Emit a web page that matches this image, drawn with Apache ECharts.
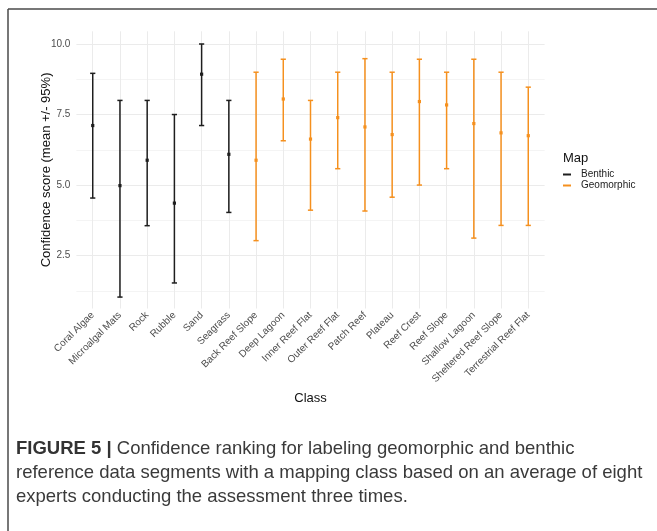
<!DOCTYPE html>
<html>
<head>
<meta charset="utf-8">
<script src="https://cdn.jsdelivr.net/npm/echarts@6/dist/echarts.min.js"></script>
<style>
html,body{margin:0;padding:0;background:#fff;}
#chart{width:657px;height:531px;}
</style>
</head>
<body>
<div id="chart"></div>
<script>
// ---- data ----
var categories = ['Coral Algae','Microalgal Mats','Rock','Rubble','Sand','Seagrass',
  'Back Reef Slope','Deep Lagoon','Inner Reef Flat','Outer Reef Flat','Patch Reef','Plateau',
  'Reef Crest','Reef Slope','Shallow Lagoon','Sheltered Reef Slope','Terrestrial Reef Flat'];
var mapType = ['Benthic','Benthic','Benthic','Benthic','Benthic','Benthic',
  'Geomorphic','Geomorphic','Geomorphic','Geomorphic','Geomorphic','Geomorphic',
  'Geomorphic','Geomorphic','Geomorphic','Geomorphic','Geomorphic'];
var meanVals  = [7.11, 4.98, 5.88, 4.36, 8.93, 6.09, 5.88, 8.05, 6.63, 7.39, 7.06, 6.79, 7.96, 7.84, 7.18, 6.85, 6.75];
var lowerVals = [4.54, 1.03, 3.56, 1.53, 7.11, 4.03, 3.03, 6.57, 4.11, 5.58, 4.08, 4.57, 5.00, 5.58, 3.12, 3.57, 3.57];
var upperVals = [8.96, 8.00, 8.00, 7.50, 10.0, 8.00, 9.00, 9.46, 8.00, 9.00, 9.48, 9.00, 9.46, 9.00, 9.46, 9.00, 8.47];
var yTickLabels = ['2.5','5.0','7.5','10.0'];
var legendNames = ['Benthic','Geomorphic'];
var colors = {Benthic:'#1e1e1e', Geomorphic:'#F5901E'};

function seriesData(name){
  var out=[];
  for (var i=0;i<categories.length;i++){
    if (mapType[i]===name) out.push([i, lowerVals[i], meanVals[i], upperVals[i]]);
  }
  return out;
}

function renderErr(params, api){
  var x = api.value(0);
  var lo = api.coord([x, api.value(1)]);
  var mid = api.coord([x, api.value(2)]);
  var hi = api.coord([x, api.value(3)]);
  var col = api.visual('color');
  var hw = 2.6;
  var st = {stroke: col, lineWidth: 1.5};
  return {type:'group', children:[
    {type:'line', shape:{x1:lo[0],y1:lo[1],x2:hi[0],y2:hi[1]}, style:st},
    {type:'line', shape:{x1:lo[0]-hw,y1:lo[1],x2:lo[0]+hw,y2:lo[1]}, style:st},
    {type:'line', shape:{x1:hi[0]-hw,y1:hi[1],x2:hi[0]+hw,y2:hi[1]}, style:st},
    {type:'rect', shape:{x:mid[0]-1.6,y:mid[1]-1.6,width:3.2,height:3.2}, style:{fill:col}}
  ]};
}

var chart = echarts.init(document.getElementById('chart'), null, {renderer:'canvas'});
var grid = '#ebebeb', minor = '#f4f4f4';

var option = {
  animation:false,
  backgroundColor:'#fff',
  title:[
    {text:'Map', left:558, top:147, textStyle:{fontFamily:'Liberation Sans', fontSize:13, fontWeight:'normal', color:'#111'}},
    {left:11, top:432,
     text:'{b|FIGURE 5 |} Confidence ranking for labeling geomorphic and benthic\nreference data segments with a mapping class based on an average of eight\nexperts conducting the assessment three times.',
     textStyle:{fontFamily:'Liberation Sans', fontSize:18.5, fontWeight:'normal', color:'#3a3a3a', lineHeight:24,
       rich:{b:{fontFamily:'Liberation Sans', fontSize:18.5, fontWeight:'bold', color:'#333', lineHeight:24}}}}
  ],
  legend:{
    orient:'vertical', left:558, top:164, itemGap:0, itemWidth:8, itemHeight:2, icon:'rect',
    data:legendNames,
    textStyle:{fontFamily:'Liberation Sans', fontSize:10, color:'#222', lineHeight:11, padding:[0,0,0,5]}
  },
  grid:{left:76.4, right:112.4, top:31.3, bottom:222.5, containLabel:false},
  xAxis:{
    type:'value', min:-0.6, max:16.6, interval:0.2,
    name:'Class', nameLocation:'middle', nameGap:83, nameMoveOverlap:false,
    nameTextStyle:{fontFamily:'Liberation Sans', fontSize:13, color:'#111'},
    axisLine:{show:false}, axisTick:{show:false},
    axisLabel:{
      rotate:45, margin:5, fontFamily:'Liberation Sans', fontSize:10, color:'#4d4d4d',
      showMinLabel:true, showMaxLabel:true,
      formatter:function(v){
        var r=Math.round(v);
        if (Math.abs(v-r)<1e-6 && r>=0 && r<categories.length) return categories[r];
        return '';
      }
    },
    splitLine:{show:true, showMinLine:false, showMaxLine:false,
      lineStyle:{color:['rgba(0,0,0,0)','rgba(0,0,0,0)',grid,'rgba(0,0,0,0)','rgba(0,0,0,0)'], width:1}}
  },
  yAxis:{
    type:'value', min:0.625, max:10.45, interval:0.625,
    name:'Confidence score (mean +/- 95%)', nameLocation:'middle', nameGap:23, nameRotate:90, nameMoveOverlap:false,
    nameTextStyle:{fontFamily:'Liberation Sans', fontSize:13, color:'#111'},
    axisLine:{show:false}, axisTick:{show:false},
    axisLabel:{margin:6, fontFamily:'Liberation Sans', fontSize:10, color:'#4d4d4d',
      formatter:function(v){
        for (var k=0;k<yTickLabels.length;k++){ if (Math.abs(v-parseFloat(yTickLabels[k]))<1e-6) return yTickLabels[k]; }
        return '';
      }},
    splitLine:{show:true, showMinLine:false, showMaxLine:false,
      lineStyle:{color:[minor,'rgba(0,0,0,0)',grid,'rgba(0,0,0,0)'], width:1}}
  },
  series: legendNames.map(function(n){
    return {name:n, type:'custom', renderItem:renderErr, itemStyle:{color:colors[n]},
      encode:{x:0, y:[1,2,3]}, data:seriesData(n), z:5};
  }),
  graphic:[
    {type:'line', shape:{x1:8, y1:9, x2:657, y2:9}, style:{stroke:'#4a4a4a', lineWidth:1.5}},
    {type:'line', shape:{x1:8, y1:9, x2:8, y2:531}, style:{stroke:'#4a4a4a', lineWidth:1.5}}
  ]
};
chart.setOption(option);
</script>
</body>
</html>
